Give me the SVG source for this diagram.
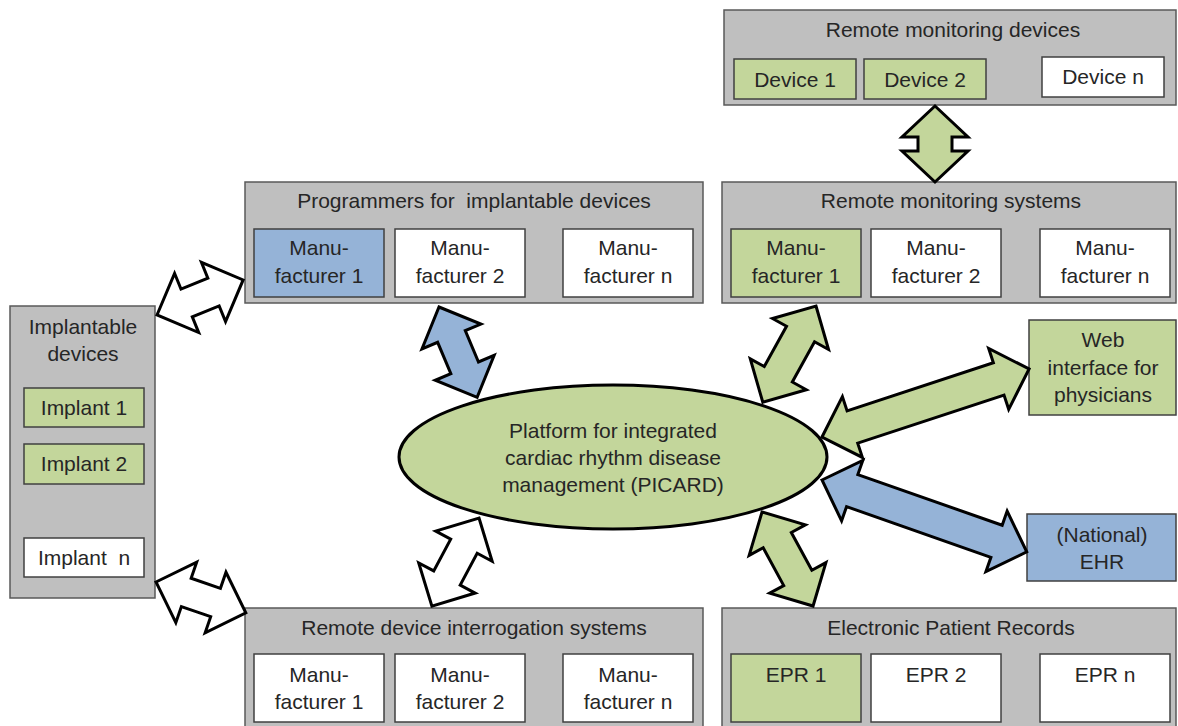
<svg xmlns="http://www.w3.org/2000/svg" width="1178" height="726" viewBox="0 0 1178 726">
<style>
text{font-family:"Liberation Sans",Arial,sans-serif;font-size:21px;fill:#262626;text-anchor:middle;white-space:pre}
.grp{fill:#bfbfbf;stroke:#595959;stroke-width:1.5}
.g{fill:#c3d69b;stroke:#404040;stroke-width:1.5}
.b{fill:#95b3d7;stroke:#404040;stroke-width:1.5}
.w{fill:#ffffff;stroke:#404040;stroke-width:1.5}
.ag{fill:#c3d69b;stroke:#000;stroke-width:3;stroke-linejoin:miter}
.ab{fill:#95b3d7;stroke:#000;stroke-width:3;stroke-linejoin:miter}
.aw{fill:#ffffff;stroke:#000;stroke-width:3;stroke-linejoin:miter}
</style>
<rect width="1178" height="726" fill="#ffffff"/>

<g id="remote-monitoring-devices">
<rect class="grp" x="724" y="10" width="452" height="95"/>
<text x="953" y="37">Remote monitoring devices</text>
<rect class="g" x="734" y="59" width="122" height="40"/>
<text x="795" y="87">Device 1</text>
<rect class="g" x="864" y="59" width="122" height="40"/>
<text x="925" y="87">Device 2</text>
<rect class="w" x="1042" y="57" width="122" height="40"/>
<text x="1103" y="84">Device n</text>
</g>

<g id="remote-monitoring-systems">
<rect class="grp" x="722" y="182" width="454" height="121"/>
<text x="951" y="208">Remote monitoring systems</text>
<rect class="g" x="731" y="229" width="130" height="68"/>
<text x="796" y="255">Manu-</text><text x="796" y="283">facturer 1</text>
<rect class="w" x="871" y="229" width="130" height="68"/>
<text x="936" y="255">Manu-</text><text x="936" y="283">facturer 2</text>
<rect class="w" x="1040" y="229" width="130" height="68"/>
<text x="1105" y="255">Manu-</text><text x="1105" y="283">facturer n</text>
</g>

<g id="programmers">
<rect class="grp" x="245" y="182" width="458" height="121"/>
<text x="474" y="208">Programmers for  implantable devices</text>
<rect class="b" x="254" y="229" width="130" height="68"/>
<text x="319" y="255">Manu-</text><text x="319" y="283">facturer 1</text>
<rect class="w" x="395" y="229" width="130" height="68"/>
<text x="460" y="255">Manu-</text><text x="460" y="283">facturer 2</text>
<rect class="w" x="563" y="229" width="130" height="68"/>
<text x="628" y="255">Manu-</text><text x="628" y="283">facturer n</text>
</g>

<g id="implantable-devices">
<rect class="grp" x="10" y="306" width="145" height="292"/>
<text x="83" y="334">Implantable</text>
<text x="83" y="361">devices</text>
<rect class="g" x="24" y="388" width="120" height="39"/>
<text x="84" y="415">Implant 1</text>
<rect class="g" x="24" y="444" width="120" height="40"/>
<text x="84" y="471">Implant 2</text>
<rect class="w" x="24" y="538" width="120" height="39"/>
<text x="84" y="565">Implant  n</text>
</g>

<g id="remote-device-interrogation">
<rect class="grp" x="245" y="608" width="458" height="125"/>
<text x="474" y="635">Remote device interrogation systems</text>
<rect class="w" x="254" y="654" width="130" height="68"/>
<text x="319" y="682">Manu-</text><text x="319" y="709">facturer 1</text>
<rect class="w" x="395" y="654" width="130" height="68"/>
<text x="460" y="682">Manu-</text><text x="460" y="709">facturer 2</text>
<rect class="w" x="563" y="654" width="130" height="68"/>
<text x="628" y="682">Manu-</text><text x="628" y="709">facturer n</text>
</g>

<g id="electronic-patient-records">
<rect class="grp" x="722" y="608" width="454" height="125"/>
<text x="951" y="635">Electronic Patient Records</text>
<rect class="g" x="731" y="654" width="130" height="68"/>
<text x="796" y="682">EPR 1</text>
<rect class="w" x="871" y="654" width="130" height="68"/>
<text x="936" y="682">EPR 2</text>
<rect class="w" x="1040" y="654" width="130" height="68"/>
<text x="1105" y="682">EPR n</text>
</g>

<g id="web-interface">
<rect class="g" x="1029" y="320" width="147" height="95"/>
<text x="1103" y="347">Web</text>
<text x="1103" y="375">interface for</text>
<text x="1103" y="402">physicians</text>
</g>

<g id="national-ehr">
<rect class="b" x="1027" y="514" width="149" height="67"/>
<text x="1102" y="542">(National)</text>
<text x="1102" y="569">EHR</text>
</g>

<g id="picard">
<ellipse cx="613" cy="457" rx="214" ry="72" fill="#c3d69b" stroke="#000" stroke-width="3"/>
<text x="613" y="438">Platform for integrated</text>
<text x="613" y="465">cardiac rhythm disease</text>
<text x="613" y="492">management (PICARD)</text>
</g>

<g id="connectors">
<path class="ag" transform="translate(935,106) rotate(90)" d="M0,0 L31,-33 L31,-17 L45,-17 L45,-33 L76,0 L45,33 L45,17 L31,17 L31,33 Z"/>
<path class="aw" transform="translate(157,315) rotate(-22.15)" d="M0,0 L32,-32 L32,-15 L61,-15 L61,-32 L93,0 L61,32 L61,15 L32,15 L32,32 Z"/>
<path class="ab" transform="translate(439,307) rotate(67.1)" d="M0,0 L32,-32 L32,-15 L66,-15 L66,-32 L98,0 L66,32 L66,15 L32,15 L32,32 Z"/>
<path class="aw" transform="translate(479,518) rotate(118.1)" d="M0,0 L32,-32 L32,-15 L68,-15 L68,-32 L100,0 L68,32 L68,15 L32,15 L32,32 Z"/>
<path class="aw" transform="translate(156,582) rotate(19.0)" d="M0,0 L32,-32 L32,-15 L63,-15 L63,-32 L95,0 L63,32 L63,15 L32,15 L32,32 Z"/>
<path class="ag" transform="translate(816,306) rotate(118.9)" d="M0,0 L32,-32 L32,-16 L78,-16 L78,-32 L110,0 L78,32 L78,16 L32,16 L32,32 Z"/>
<path class="ag" transform="translate(822,437) rotate(-18.2)" d="M0,0 L32,-32 L32,-17 L186,-17 L186,-32 L218,0 L186,32 L186,17 L32,17 L32,32 Z"/>
<path class="ab" transform="translate(822,480) rotate(19.35)" d="M0,0 L32,-32 L32,-17 L185,-17 L185,-32 L217,0 L185,32 L185,17 L32,17 L32,32 Z"/>
<path class="ag" transform="translate(762,512) rotate(61.5)" d="M0,0 L32,-32 L32,-16 L75,-16 L75,-32 L107,0 L75,32 L75,16 L32,16 L32,32 Z"/>
</g>
</svg>
